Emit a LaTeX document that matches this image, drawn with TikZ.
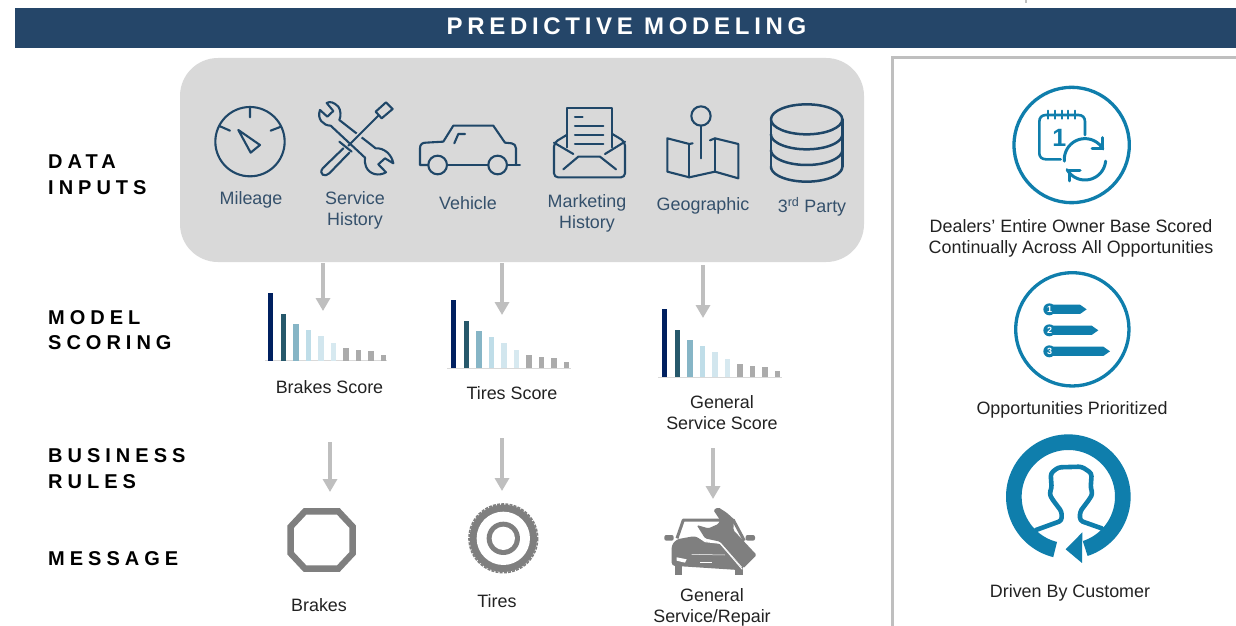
\documentclass[tikz,border=0pt]{standalone}
\usepackage{fontspec}
\setmainfont{Liberation Sans}
\newfontfamily\spacedA[LetterSpace=19.5]{Liberation Sans}
\newfontfamily\spacedB[LetterSpace=25]{Liberation Sans}
\definecolor{navy}{HTML}{254669}
\definecolor{iconblue}{HTML}{1F4768}
\definecolor{labelblue}{HTML}{34506B}
\definecolor{panelgray}{HTML}{D9D9D9}
\definecolor{arrowgray}{HTML}{BFBFBF}
\definecolor{icongray}{HTML}{7F7F7F}
\definecolor{teal}{HTML}{0F7EAC}
\definecolor{txt}{HTML}{222222}
\tikzset{
 x=1pt,y=-1pt,
 lab/.style={inner sep=0pt,align=center,text=txt,font=\fontsize{17.9}{21.5}\selectfont},
 inlab/.style={lab,text=labelblue},
 side/.style={inner sep=0pt,anchor=west,align=left,text=black,font=\fontsize{20}{25.5}\selectfont\bfseries\spacedB},
 flow/.style={draw=arrowgray,line width=4pt,-{Triangle[length=13pt,width=14pt]}},
 ico/.style={draw=iconblue,line width=2.1pt,line cap=round,line join=round},
 tealline/.style={draw=teal,line join=round,line cap=round},
}
\usetikzlibrary{arrows.meta}
\newcommand{\scorebars}[4]{%
 \draw[draw=panelgray,line width=1pt] (#3,#2) -- (#4,#2);
 \foreach \hh/\cc [count=\ii from 0] in {68/002060,47/26586B,37/86B5C6,31/BFDDE8,25/D2E6EE,18/D7E9F0,13/ABABAB,11/ABABAB,10/ABABAB,6/ABABAB}{
  \definecolor{barc}{HTML}{\cc}
  \fill[barc] ({#1+\ii*12.55-2.7},#2) rectangle ({#1+\ii*12.55+2.7},{#2-\hh});
 }}
\begin{document}
\begin{tikzpicture}
\useasboundingbox (0,0) rectangle (1236,626);
\fill[white] (0,0) rectangle (1236,626);
\fill[arrowgray] (1024.5,0) rectangle (1026.5,3);
% header
\fill[navy] (15,8.5) rectangle (1236,48.3);
\node[inner sep=0pt,text=white,font=\fontsize{24}{28}\selectfont\bfseries\spacedA] (title) at (626.5,26.5) {PREDICTIVE MODELING};
% panels
\fill[panelgray,rounded corners=38pt] (180,58) rectangle (864,262);
\draw[draw=arrowgray,line width=3pt] (1236,57.5) -- (892,57.5) -- (892,626);
% side labels
\node[side] (s1) at (48,174.5) {DATA\\INPUTS};
\node[side] (s2) at (48,330) {MODEL\\SCORING};
\node[side] (s3) at (48,468.5) {BUSINESS\\RULES};
\node[side] (s4) at (48,559) {MESSAGE};
% input icons : mileage, car
\begin{scope}[shift={(180,60)},scale=0.3333]
 \draw[ico] (210,245) circle (104);
 \draw[ico] (210,145) -- (210,172) (118,198) -- (150,212) (303,200) -- (272,212);
 \draw[ico] (175,210) -- (240,255) -- (212,278) -- cycle;
 \draw[ico] (773,315) circle (28) (953,315) circle (28);
 \draw[ico] (745,315) -- (720,315) -- (720,265) .. controls (720,252) and (728,248) .. (738,248) -- (790,245) -- (820,197) -- (940,197) -- (975,248) -- (995,250) .. controls (1003,252) and (1008,256) .. (1008,265) -- (1008,315);
 \draw[ico] (801,315) -- (925,315) (981,315) -- (1020,315);
 \draw[ico] (823,250) -- (835,222) -- (855,222);
\end{scope}
% tools
\begin{scope}[shift={(310,95)},scale=0.3333]
 \draw[ico] (50,24) .. controls (60,18) and (72,22) .. (85,35) .. controls (92,45) and (94,62) .. (88,75)
   -- (197,160) .. controls (222,158) and (245,178) .. (250,205) -- (225,190) -- (205,208) -- (228,232)
   .. controls (205,245) and (178,238) .. (168,215) .. controls (164,205) and (164,197) .. (165,188)
   -- (62,92) .. controls (40,92) and (20,72) .. (30,45) -- (52,65) -- (70,48) -- cycle;
 \draw[ico,fill=panelgray] (197,50) -- (228,22) -- (248,42) -- (215,70) -- cycle;
 \draw[draw=panelgray,line width=6pt] (190,80) -- (125,143);
 \draw[ico] (206,61) -- (115,152);
 \draw[ico,fill=panelgray] (100,160) -- (38,220) .. controls (25,238) and (45,248) .. (58,235) -- (118,173);
 \draw[ico] (88,140) -- (125,170);
\end{scope}
% input icons : envelope, map, database
\begin{scope}[shift={(530,60)},scale=0.3333]
 \draw[ico] (110,262) -- (110,143) -- (247,143) -- (247,262);
 \draw[ico] (135,170) -- (158,170) (135,198) -- (220,198) (135,225) -- (220,225) (135,253) -- (220,253);
 \draw[ico,rounded corners=4pt] (110,225) -- (72,248) -- (72,352) -- (285,352) -- (285,245) -- (247,222);
 \draw[ico] (72,248) -- (130,282) (285,245) -- (225,282);
 \draw[ico] (100,328) -- (145,290) -- (210,290) -- (258,328);
 \draw[ico] (513,168) circle (29);
 \draw[ico] (513,197) -- (513,295);
 \draw[ico] (488,250) -- (478,252) -- (412,235) -- (412,335) -- (478,352) -- (555,335) -- (625,355) -- (625,252) -- (555,235) -- (540,241);
 \draw[ico] (478,252) -- (478,352) (555,235) -- (555,335);
 \draw[ico,line width=2.5pt] (830,178) circle[x radius=107,y radius=45];
 \draw[ico,line width=2.5pt] (723,178) -- (723,320) (937,178) -- (937,320);
 \foreach \yy in {223,270,320}{
  \draw[ico,line width=2.5pt] plot[domain=0:180,samples=40,smooth] ({830+107*cos(\x)},{\yy+45*sin(\x)});
 }
\end{scope}
% input labels
\node[inlab] (l1) at (251,199.5) {Mileage};
\node[inlab] (l2) at (355,210.5) {Service\\History};
\node[inlab] (l3) at (468,203.5) {Vehicle};
\node[inlab] (l4) at (587,213.5) {Marketing\\History};
\node[inlab] (l5) at (703,205.5) {Geographic};
\node[inlab] (l6) at (812,207) {3\textsuperscript{rd} Party};
% score bars
\scorebars{270.7}{360.5}{265}{387}
\scorebars{453.7}{368}{447}{571}
\scorebars{664.7}{377}{658}{782}
\node[lab] (b1) at (329.5,387) {Brakes Score};
\node[lab] (b2) at (512,393) {Tires Score};
\node[lab] (b3) at (722,412.5) {General\\Service Score};
% connectors
\coordinate (a1s) at (323,263); \coordinate (a1e) at (323,311);
\coordinate (a2s) at (502,263); \coordinate (a2e) at (502,315);
\coordinate (a3s) at (703,265); \coordinate (a3e) at (703,318);
\coordinate (c1s) at (330,442); \coordinate (c1e) at (330,492);
\coordinate (c2s) at (502,438); \coordinate (c2e) at (502,491);
\coordinate (c3s) at (713,448); \coordinate (c3e) at (713,499);
\foreach \aa in {a1,a2,a3,c1,c2,c3}{\draw[flow] (\aa s) -- (\aa e);}
% message icons
\begin{scope}[shift={(270,490)},scale=0.3333]
 \draw[draw=icongray,line width=6.4pt,line join=miter] (105,64) -- (205,64) -- (248,110) -- (248,190) -- (205,236) -- (105,236) -- (62,190) -- (62,110) -- cycle;
 \fill[icongray] (700,145) circle (101);
 \draw[draw=icongray,line width=1.6pt,dash pattern=on 3pt off 1.2pt] (700,145) circle (103);
 \fill[white] (700,145) circle (80);
 \fill[icongray] (700,145) circle (50);
 \fill[white] (700,145) circle (35);
\end{scope}
% repair car
\begin{scope}[shift={(655,500)},scale=0.3333]
 \draw[draw=icongray,line width=3pt,line join=round] (66,115) -- (85,60) -- (235,60) -- (268,122);
 \fill[icongray,rounded corners=2pt] (28,105) rectangle (56,122);
 \fill[icongray,rounded corners=2pt] (272,105) rectangle (300,122);
 \fill[icongray] (60,195) rectangle (82,225);
 \fill[icongray] (240,200) rectangle (265,225);
 \fill[icongray,rounded corners=3pt] (50,197) -- (50,135) -- (65,118) -- (120,108) -- (150,125) -- (195,130) -- (262,205) -- (250,210) -- cycle;
 \fill[icongray,rounded corners=1.5pt] (175,30) -- (190,22) -- (215,38) -- (237,58) -- (235,90) -- (305,165) -- (265,205) -- (195,125) -- (150,115) -- (125,75) -- (160,85) -- (190,72) -- (195,60) -- cycle;
 \draw[draw=white,line width=1pt] (122,105) -- (150,125) -- (195,130) -- (262,208);
 \fill[white] (65,172) -- (95,178) -- (90,188) -- (65,182) -- cycle;
 \fill[white] (135,185) rectangle (170,190);
 \draw[draw=white,line width=.5pt] (110,163) -- (210,165);
\end{scope}
\node[lab] (m1) at (319,605) {Brakes};
\node[lab] (m2) at (497,601) {Tires};
\node[lab] (m3) at (712,607.5) {General\\Service/Repair};
% right column: calendar circle
\begin{scope}[shift={(990,70)},scale=0.3333]
 \draw[tealline,line width=3.3pt] (245,225) circle (173);
 \draw[tealline,line width=2.6pt] (212,268) -- (168,268) .. controls (155,268) and (148,260) .. (148,250) -- (148,155) .. controls (148,143) and (155,135) .. (168,135) -- (265,135) .. controls (278,135) and (285,143) .. (285,155) -- (285,195);
 \foreach \xx in {173,195,215,235,256}{\draw[tealline,line width=2.2pt] (\xx,122) -- (\xx,146);}
 \node[inner sep=0pt,text=teal,font=\fontsize{25}{25}\selectfont\bfseries] (one) at (208,205) {1};
 \draw[tealline,line width=3pt] plot[domain=175:330,samples=40,smooth] ({285+62*cos(\x)},{268+62*sin(\x)});
 \draw[tealline,line width=3pt] plot[domain=5:150,samples=40,smooth] ({285+62*cos(\x)},{268+62*sin(\x)});
 \draw[tealline,line width=3pt] (337,203) -- (337,235) -- (306,235);
 \draw[tealline,line width=3pt] (238,333) -- (238,302) -- (270,302);
\end{scope}
\node[lab] (r1) at (1071,238.5) {Dealers’ Entire Owner Base Scored\\Continually Across All Opportunities};
% list circle
\begin{scope}[shift={(990,265)},scale=0.3333]
 \draw[tealline,line width=3.3pt] (247,193) circle (170);
 \foreach \yy/\xe/\num in {133/270/1,196/305/2,259/340/3}{
  \fill[teal] (178,\yy-14) -- (\xe,\yy-14) -- (\xe+20,\yy) -- (\xe,\yy+14) -- (178,\yy+14) -- cycle;
  \fill[teal] (178,\yy) circle (18);
  \node[inner sep=0pt,text=white,font=\fontsize{9}{9}\selectfont\bfseries] (n\num) at (179,\yy) {\num};
 }
\end{scope}
\node[lab] (r2) at (1072,409.5) {Opportunities Prioritized};
% customer circle
\begin{scope}[shift={(1000,430)},scale=0.3333]
 \fill[teal] plot[domain=104:432,samples=120] ({205+187*cos(\x)},{200+187*sin(\x)})
   -- plot[domain=432:104,samples=120] ({205+140*cos(\x)},{200+140*sin(\x)}) -- cycle;
 \fill[teal] (247,307) -- (197,358) -- (246,399) -- cycle;
 \draw[tealline,line width=4.6pt,rounded corners=3pt] (108,300) -- (185,272) -- (185,245) -- (155,205) -- (148,190) -- (155,175) -- (152,130) -- (175,112) -- (245,110) -- (275,130) -- (272,175) -- (278,190) -- (270,205) -- (240,245) -- (240,272) -- (305,295);
\end{scope}
\node[lab] (r3) at (1070,592.5) {Driven By Customer};
\end{tikzpicture}
\end{document}
